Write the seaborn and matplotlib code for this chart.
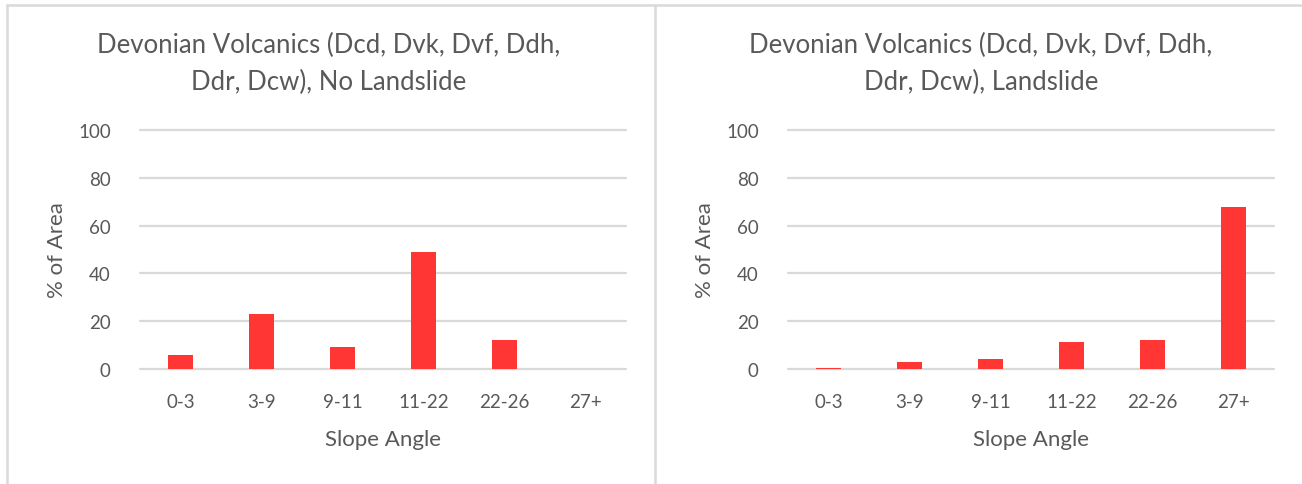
import matplotlib
matplotlib.use("Agg")
import matplotlib.pyplot as plt
from matplotlib.lines import Line2D
import seaborn as sns
import pandas as pd

categories = ["0-3", "3-9", "9-11", "11-22", "22-26", "27+"]
no_landslide = [6.0, 22.9, 9.2, 49.1, 12.0, 0.0]
landslide = [0.4, 3.1, 4.2, 11.3, 12.1, 67.6]
titles = ["Devonian Volcanics (Dcd, Dvk, Dvf, Ddh,\nDdr, Dcw), No Landslide",
          "Devonian Volcanics (Dcd, Dvk, Dvf, Ddh,\nDdr, Dcw), Landslide"]
yticks = [0, 20, 40, 60, 80, 100]

sns.set_theme(style="white")
plt.rcParams['font.family'] = ['Lato', 'DejaVu Sans']

TXT = "#595959"
GRID = "#d9d9d9"
BAR = "#FF3633"

W, H = 1302, 485
fig = plt.figure(figsize=(W / 100, H / 100), dpi=100)

axes_px = [(140, 626), (788, 1274)]
title_cx = [329, 981]
top_px, bot_px = 131, 370

for (x0, x1), cx, vals, title in zip(axes_px, title_cx, [no_landslide, landslide], titles):
    ax = fig.add_axes([x0 / W, 1 - bot_px / H, (x1 - x0) / W, (bot_px - top_px) / H])
    df = pd.DataFrame({"cat": categories, "val": vals})
    sns.barplot(data=df, x="cat", y="val", color=BAR, width=0.31, ax=ax,
                saturation=1, edgecolor="none", zorder=3)
    ax.set_ylim(0, 100)
    ax.set_xlim(-0.5, 5.5)
    ax.set_yticks(yticks)
    ax.set_yticklabels([str(t) for t in yticks])
    for t in yticks:
        ax.axhline(t, color=GRID, lw=1.6, zorder=1, clip_on=False)
    for s in ax.spines.values():
        s.set_visible(False)
    ax.tick_params(axis="both", length=0, labelsize=13.5, labelcolor=TXT)
    ax.tick_params(axis="y", pad=21)
    ax.tick_params(axis="x", pad=17)
    ax.set_xlabel("Slope Angle", fontsize=16, color=TXT, labelpad=14)
    ax.set_ylabel("% of Area", fontsize=16, color=TXT, labelpad=8)
    fig.text(cx / W, 1 - 64 / H, title, fontsize=18.5, color=TXT, ha="center", va="center",
             linespacing=1.6)

# panel borders
def hline(y, xa, xb):
    fig.add_artist(Line2D([xa / W, xb / W], [1 - y / H, 1 - y / H], color=GRID, lw=1.8,
                          transform=fig.transFigure))

def vline(x, ya, yb):
    fig.add_artist(Line2D([x / W, x / W], [1 - ya / H, 1 - yb / H], color=GRID, lw=1.8,
                          transform=fig.transFigure))

hline(6, 7, W)
vline(7, 6, H)
vline(655, 6, H)

fig.savefig("out.png", dpi=100, facecolor="white")
